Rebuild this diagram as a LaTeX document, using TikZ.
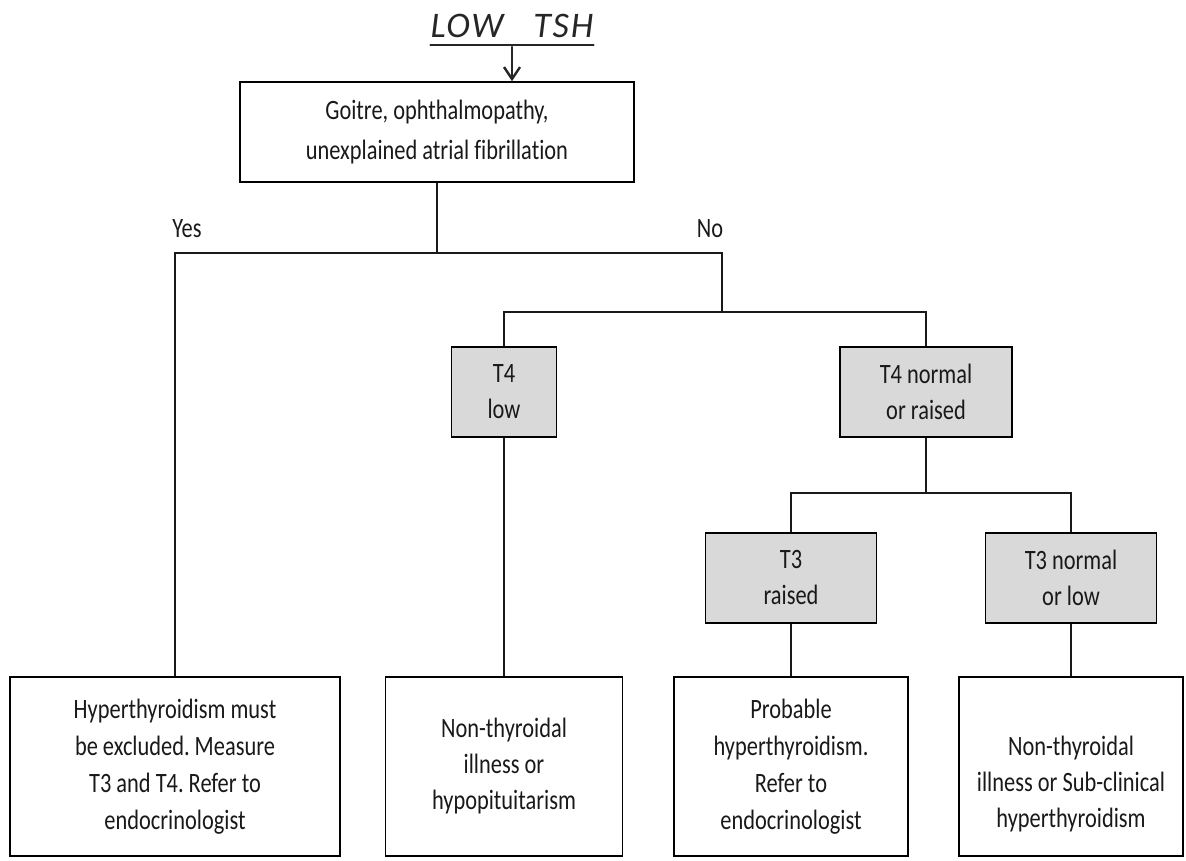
\documentclass[tikz,border=0pt]{standalone}
\usepackage{fontspec}
\setmainfont[FakeStretch=0.8,Ligatures=NoCommon]{Carlito}
\newfontfamily\handfont[LetterSpace=5,Ligatures=NoCommon]{Carlito}
\usetikzlibrary{arrows.meta}
\frenchspacing
\begin{document}
\begin{tikzpicture}[x=1pt,y=-1pt,
  box/.style={draw=black,line width=1.6pt,rectangle,align=center,inner sep=0pt,
    text=black!90,font=\fontsize{28}{37}\selectfont},
  testbox/.style={box,fill=black!15,font=\fontsize{28}{36}\selectfont},
  endbox/.style={box,minimum height=179pt},
  plain/.style={align=center,inner sep=0pt,text=black!90,font=\fontsize{28}{37}\selectfont},
  link/.style={line width=1.5pt,black!90},
  hand/.style={line width=2.4pt,line cap=round,black!85}]
\useasboundingbox (0,0) rectangle (1186,861);

% handwritten heading
\node[anchor=base,inner sep=0pt,text=black!85,font=\handfont\itshape\fontsize{36}{36}\selectfont] (title) at (512,38) {LOW\hspace{30pt}TSH};

% question box
\node[box,minimum width=394pt,minimum height=100pt,font=\fontsize{28}{40}\selectfont] (top) at (437,132)
  {Goitre, ophthalmopathy,\\unexplained atrial fibrillation};

% test result boxes
\node[testbox,minimum width=105pt,minimum height=90pt] (t4low) at (504,392) {T4\\low};
\node[testbox,minimum width=172pt,minimum height=90pt] (t4high) at (926,392) {T4 normal\\or raised};
\node[testbox,minimum width=171pt,minimum height=90pt] (t3raised) at (791,578) {T3\\raised};
\node[testbox,minimum width=171pt,minimum height=90pt] (t3low) at (1071,578) {T3 normal\\or low};

% outcome boxes
\node[endbox,minimum width=330pt] (b1) at (175,766.5)
  {Hyperthyroidism must\\be excluded. Measure\\T3 and T4. Refer to\\endocrinologist};
\node[endbox,minimum width=237pt,font=\fontsize{28}{36}\selectfont] (b2) at (504,766.5)
  {Non-thyroidal\\illness or\\hypopituitarism};
\node[endbox,minimum width=234pt] (b3) at (791,766.5)
  {Probable\\hyperthyroidism.\\Refer to\\endocrinologist};
\node[endbox,minimum width=224pt] (b4) at (1071,766.5) {};
\node[plain,font=\fontsize{28}{36}\selectfont] (b4text) at ([yshift=-18pt]b4.center)
  {Non-thyroidal\\illness or Sub-clinical\\hyperthyroidism};

% branch labels
\node[plain] (yes) at (187,229) {Yes};
\node[plain] (no) at (710,229) {No};

% branch levels
\coordinate (split1) at (722,253);
\coordinate (split2) at (722,312);
\coordinate (split3) at (926,493);

% heading underline and arrow
\draw[hand] ([yshift=-7pt]title.base west) -- ([yshift=-7pt]title.base east);
\draw[hand,-{Straight Barb[length=12pt,width=16pt]}] ([yshift=-9pt]title.base) -- (title.base |- top.north);

% connectors
\draw[link] (top.south) -- (top.south |- split1);
\draw[link] (b1.north) |- (split1) -- (split2);
\draw[link] (t4low.north) |- (t4high.north |- split2) -- (t4high.north);
\draw[link] (t4low.south) -- (b2.north);
\draw[link] (t4high.south) -- (split3);
\draw[link] (t3raised.north) |- (t3low.north |- split3) -- (t3low.north);
\draw[link] (t3raised.south) -- (b3.north);
\draw[link] (t3low.south) -- (b4.north);
\end{tikzpicture}
\end{document}
